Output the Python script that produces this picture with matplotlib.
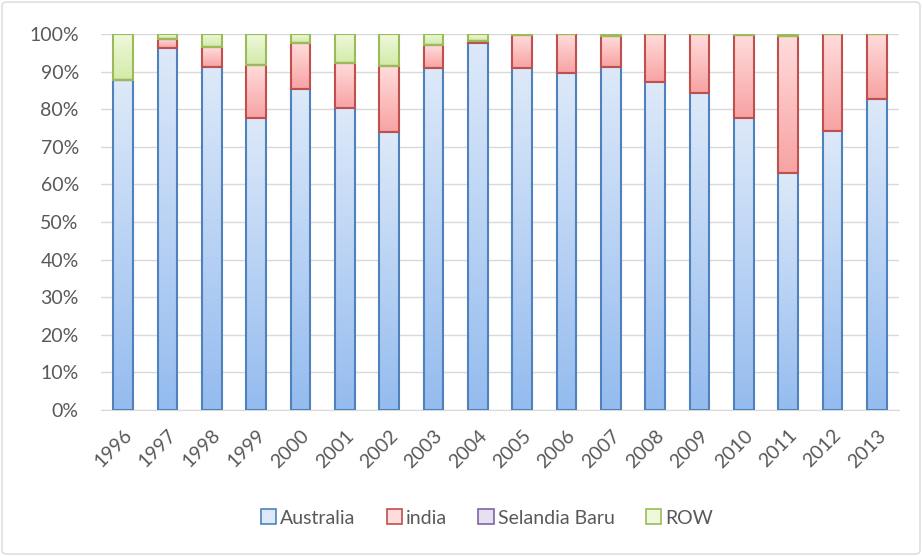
import numpy as np
import matplotlib.pyplot as plt
from matplotlib.colors import LinearSegmentedColormap
from matplotlib.patches import FancyBboxPatch

years = [str(y) for y in range(1996, 2014)]
australia = [87.8, 96.3, 91.2, 77.7, 85.4, 80.3, 74.0, 91.0, 97.6, 91.0, 89.7, 91.3, 87.2, 84.4, 77.7, 63.0, 74.2, 82.7]
india = [0.0, 2.4, 5.3, 14.1, 12.2, 12.0, 17.5, 6.0, 0.6, 8.8, 10.2, 8.2, 12.8, 15.6, 22.1, 36.5, 25.8, 17.3]
selandia = [0.0] * 18
row = [100 - a - i for a, i in zip(australia, india)]

series = [
    ("Australia", australia, "#dde9f9", "#95bcef", "#4f81bd"),
    ("india", india, "#ffdcdc", "#f8a3a3", "#c0504d"),
    ("Selandia Baru", selandia, "#e6e0f0", "#c9bde0", "#8064a2"),
    ("ROW", row, "#eef8dc", "#d3eba8", "#9bbb59"),
]

plt.rcParams['font.family'] = ['Lato', 'DejaVu Sans']
fig = plt.figure(figsize=(9.22, 5.56), dpi=100)
ax = fig.add_axes([101 / 922, 1 - 410 / 556, 798 / 922, 376 / 556])

x = np.arange(len(years))
bottom = np.zeros(len(years))
handles = []
grad = np.linspace(0, 1, 64).reshape(-1, 1)
for name, vals, top_c, bot_c, edge in series:
    vals = np.array(vals) / 100
    bars = ax.bar(x, vals, 0.45, bottom=bottom, facecolor='none', edgecolor=edge,
                  linewidth=1.5, label=name, zorder=4)
    # gradient fill, darker at the bottom of each segment
    cmap = LinearSegmentedColormap.from_list(name, [bot_c, top_c])
    for b in bars:
        if b.get_height() <= 0:
            continue
        bx, by = b.get_x(), b.get_y()
        im = ax.imshow(grad, cmap=cmap, aspect='auto', origin='lower', interpolation='bilinear',
                       extent=[bx, bx + b.get_width(), by, by + b.get_height()], zorder=3)
        im.set_clip_path(b)
    handles.append(plt.Rectangle((0, 0), 1, 1, facecolor=top_c, edgecolor=edge, linewidth=1.2))
    bottom += vals

ax.set_xlim(-0.5, len(years) - 0.5)
ax.set_ylim(0, 1)
ax.set_aspect('auto')
ax.set_yticks(np.arange(0, 1.01, 0.1))
ax.set_yticklabels([f"{int(round(t * 100))}%" for t in np.arange(0, 1.01, 0.1)])
ax.set_xticks(x)
ax.set_xticklabels(years, rotation=45, ha='right', rotation_mode='anchor')
ax.tick_params(axis='both', length=0, labelsize=14, labelcolor='#595959')
ax.tick_params(axis='y', pad=16)
ax.tick_params(axis='x', pad=12)
ax.grid(axis='y', color='#d9d9d9', linewidth=1, zorder=0)
for s in ['top', 'right', 'left']:
    ax.spines[s].set_visible(False)
ax.spines['bottom'].set_color('#d9d9d9')

fig.legend(handles, [s[0] for s in series], loc='center', bbox_to_anchor=(487 / 922, 1 - 518 / 556),
           ncol=4, frameon=False, fontsize=14, labelcolor='#595959', handlelength=0.8,
           handleheight=0.8, handletextpad=0.2, columnspacing=1.6)

border = FancyBboxPatch((2 / 922, 2 / 556), 918 / 922, 552 / 556, boxstyle="round,pad=0,rounding_size=0.006",
                        transform=fig.transFigure, facecolor='none', edgecolor='#d9d9d9', linewidth=1)
fig.patches.append(border)

fig.savefig("out.png", dpi=100)
